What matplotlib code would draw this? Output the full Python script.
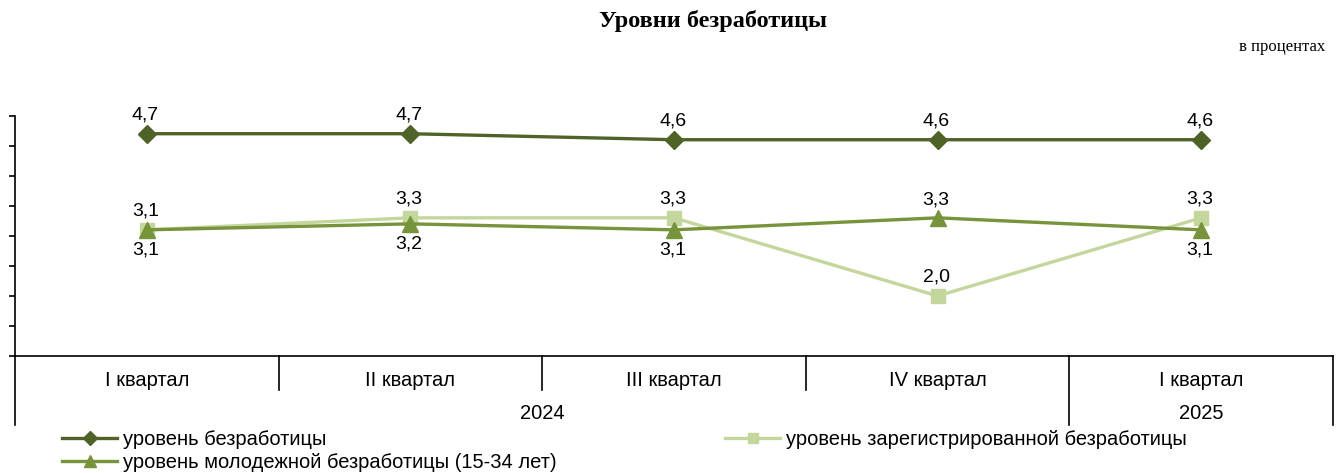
import matplotlib
matplotlib.use("Agg")
import matplotlib.pyplot as plt
from matplotlib.lines import Line2D

quarters = ["I квартал", "II квартал", "III квартал", "IV квартал", "I квартал"]
years = ["2024", "2025"]
unemployment = [4.7, 4.7, 4.6, 4.6, 4.6]
registered = [3.1, 3.3, 3.3, 2.0, 3.3]
youth = [3.1, 3.2, 3.1, 3.3, 3.1]
labels_unemp = ["4,7", "4,7", "4,6", "4,6", "4,6"]
labels_reg = ["3,1", "3,3", "3,3", "2,0", "3,3"]
labels_youth = ["3,1", "3,2", "3,1", "3,3", "3,1"]
youth_label_pos = ["below", "below", "below", "above", "below"]

c_unemp = "#4F6228"
c_reg = "#C3D69B"
c_youth = "#77933C"

plt.rcParams["font.family"] = ["Liberation Sans", "DejaVu Sans"]

fig = plt.figure(figsize=(13.39, 4.73), dpi=100)
ax = fig.add_axes([15/1339, 1-356/473, (1333-15)/1339, (356-115.7)/473])

x = list(range(len(quarters)))
l_reg, = ax.plot(x, registered, color=c_reg, lw=2.4, marker="s", ms=10, zorder=3,
                 label="уровень зарегистрированной безработицы")
l_youth, = ax.plot(x, youth, color=c_youth, lw=2.4, marker="^", ms=11, zorder=4,
                   label="уровень молодежной безработицы (15-34 лет)")
l_unemp, = ax.plot(x, unemployment, color=c_unemp, lw=2.4, marker="D", ms=9, zorder=5,
                   label="уровень безработицы")

fs = 14
for i in x:
    ax.annotate(labels_unemp[i], (i, unemployment[i]), xytext=(-1, 13.5), textcoords="offset points",
                ha="center", va="center", fontsize=fs)
    ax.annotate(labels_reg[i], (i, registered[i]), xytext=(-1, 13.5), textcoords="offset points",
                ha="center", va="center", fontsize=fs)
    dy = 13 if youth_label_pos[i] == "above" else -14.5
    ax.annotate(labels_youth[i], (i, youth[i]), xytext=(-1, dy), textcoords="offset points",
                ha="center", va="center", fontsize=fs)

ax.set_xlim(-0.5, 4.5)
ax.set_ylim(1.0, 5.0)
ax.set_yticks([1.0 + 0.5*k for k in range(9)])
ax.set_yticklabels([])
ax.tick_params(axis="y", direction="out", length=4, width=1.2)
ax.set_xticks([])
for s in ["top", "right"]:
    ax.spines[s].set_visible(False)
ax.spines["left"].set_linewidth(1.2)
ax.spines["bottom"].set_linewidth(1.2)

tr = ax.get_xaxis_transform()
h_ax = 356 - 115.7
short = -(390 - 356) / h_ax
full = -(425 - 356) / h_ax
for xs, yb in [(-0.5, full), (0.5, short), (1.5, short), (2.5, short), (3.5, full), (4.5, full)]:
    ax.add_line(Line2D([xs, xs], [0, yb], transform=tr, color="black", lw=1.2, clip_on=False))

y_q = -(381 - 356) / h_ax
y_y = -(413 - 356) / h_ax
for i, q in enumerate(quarters):
    ax.text(i, y_q, q, transform=tr, ha="center", va="center", fontsize=14.5)
ax.text(1.5, y_y, years[0], transform=tr, ha="center", va="center", fontsize=14.5)
ax.text(4.0, y_y, years[1], transform=tr, ha="center", va="center", fontsize=14.5)

fig.text(713/1339, 1-21/473, "Уровни безработицы", ha="center", va="center",
         fontsize=17.5, fontweight="bold", family=["Liberation Serif", "DejaVu Serif"])
fig.text(1325/1339, 1-47/473, "в процентах", ha="right", va="center",
         fontsize=12, family=["Liberation Serif", "DejaVu Serif"])

common = dict(loc="upper left", frameon=False, fontsize=14.5, handlelength=2.75,
              handletextpad=0.3, labelspacing=0.2, borderaxespad=0, borderpad=0,
              markerscale=0.75)
leg1 = fig.legend([l_unemp, l_youth], [l_unemp.get_label(), l_youth.get_label()],
                  bbox_to_anchor=(62/1339, 1-430/473), **common)
leg2 = fig.legend([l_reg], [l_reg.get_label()],
                  bbox_to_anchor=(725/1339, 1-430/473), **common)

fig.savefig("out.png", dpi=100)
